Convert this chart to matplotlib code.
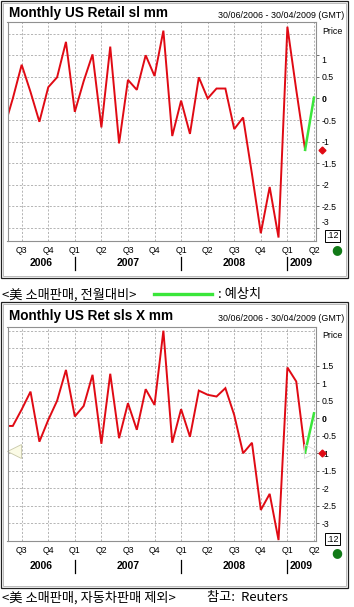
import matplotlib
matplotlib.use("Agg")
import matplotlib.pyplot as plt
import matplotlib.transforms as mtransforms
from matplotlib.patches import Rectangle

plt.rcParams["axes.unicode_minus"] = False

W, H = 354, 607

# month index 0 = first month of Q3 2006
months = list(range(-2, 33))
forecast_months = [32, 33]

retail = [-0.70, 0.00, 0.78, 0.15, -0.54, 0.26, 0.49, 1.31, -0.31, 0.40,
          1.02, -0.67, 1.20, -1.04, 0.43, 0.20, 1.00, 0.52, 1.57, -0.87,
          -0.05, -0.82, 0.49, 0.00, 0.23, 0.23, -0.71, -0.44, -1.75, -3.12,
          -2.05, -3.22, 1.66, 0.20, -1.19]
retail_forecast = [-1.19, 0.02]

retail_ex_auto = [-0.22, -0.22, 0.25, 0.76, -0.67, -0.05, 0.50, 1.38, 0.05, 0.35,
                  1.24, -0.73, 1.27, -0.57, 0.43, -0.33, 0.83, 0.38, 2.50, -0.70,
                  0.26, -0.53, 0.79, 0.67, 0.62, 0.86, 0.09, -1.00, -0.70, -2.62,
                  -2.16, -3.48, 1.45, 1.05, -0.98]
retail_ex_auto_forecast = [-0.98, 0.14]

quarter_pos = list(range(0, 34, 3))
quarter_labels = ["Q3", "Q4", "Q1", "Q2", "Q3", "Q4", "Q1", "Q2", "Q3", "Q4", "Q1", "Q2"]
year_labels = ["2006", "2007", "2008", "2009"]
year_centers = [2.2, 12, 24, 30.3]
year_breaks = [6, 18, 30]

top_ticks = [1, 0.5, 0, -0.5, -1, -1.5, -2, -2.5, -3]
top_extra_grid = [1.5]
bottom_ticks = [1.5, 1, 0.5, 0, -0.5, -1, -1.5, -2, -2.5, -3]
bottom_extra_grid = [2.5, 2.0]

RED = "#e00a14"
GREEN = "#3ae63a"
GRID = "#a8a8a8"


def fxy(x, y):
    return x / W, 1 - y / H


def rect(x0, y0, x1, y1):
    return [x0 / W, 1 - y1 / H, (x1 - x0) / W, (y1 - y0) / H]


def draw_box(fig, x0, y0, x1, y1):
    fig.patches.append(Rectangle(fxy(x0, y1), (x1 - x0) / W, (y1 - y0) / H,
                                 transform=fig.transFigure, fill=False,
                                 edgecolor="#202020", lw=0.9))
    fig.patches.append(Rectangle(fxy(x0 + 1.5, y1 - 1.5), (x1 - x0 - 3) / W,
                                 (y1 - y0 - 3) / H, transform=fig.transFigure,
                                 fill=False, edgecolor="#b0b0b0", lw=0.6))


def draw_panel(fig, dy, box, plot, ylim, values, forecast, ticks, extra_grid,
               title, shifted=None, tri=False):
    shifted = shifted or {}
    draw_box(fig, *box)
    ax = fig.add_axes(rect(*plot))
    ax.plot(months, values, color=RED, lw=1.4, solid_joinstyle="miter")
    ax.plot(forecast_months, forecast, color=GREEN, lw=1.8)
    # last-value marker beside the scale
    ax.plot([33.87], [values[-1]], marker="D", ms=3.5, color=RED, clip_on=False)
    ax.set_xlim(-1.6, 33.23)
    ax.set_ylim(*ylim)

    ax.set_xticks(quarter_pos, quarter_labels)
    ax.set_yticks(ticks, ["" if v in shifted else f"{v:g}" for v in ticks])
    ax.set_yticks(extra_grid, minor=True)
    ax.yaxis.tick_right()
    ax.tick_params(axis="x", length=0, pad=3.5, labelsize=6.3, colors="black")
    ax.tick_params(axis="y", which="major", length=2.5, width=0.6, pad=1.5,
                   labelsize=6.3, color="#555555")
    ax.tick_params(axis="y", which="minor", length=0)
    for lab in ax.get_yticklabels():
        lab.set_family("Liberation Sans")
        if lab.get_text() == "0":
            lab.set_fontweight("bold")
    for lab in ax.get_xticklabels():
        lab.set_family("Liberation Sans")
    ax.grid(True, which="both", color=GRID, ls=(0, (2.5, 2)), lw=0.6)
    for s in ax.spines.values():
        s.set_color("#909090")
        s.set_linewidth(0.8)

    # labels nudged off their grid line, as in the source chart
    yblend = mtransforms.blended_transform_factory(ax.transAxes, ax.transData)
    for v, shift in shifted.items():
        off = mtransforms.ScaledTranslation(4 / 72, -shift / 100, fig.dpi_scale_trans)
        ax.text(1.0, v, f"{v:g}", transform=yblend + off, ha="left", va="center",
                fontsize=6.3, family="Liberation Sans")

    if tri:
        ax.plot([0.02], [0.42], marker="<", ms=10, mfc="#fbfbe6", mec="#c8c8a8",
                mew=0.6, transform=ax.transAxes, clip_on=False)
        ax.plot([0.985], [0.42], marker=">", ms=10, mfc="none", mec="#dcdcdc",
                mew=0.6, transform=ax.transAxes, clip_on=False)

    blend = mtransforms.blended_transform_factory(ax.transData, fig.transFigure)
    for i, (lab, c) in enumerate(zip(year_labels, year_centers)):
        ha = "left" if i == len(year_labels) - 1 else "center"
        ax.text(c, 1 - (263 + dy) / H, lab, transform=blend, ha=ha, va="center",
                fontsize=7.5, fontweight="bold", family="Liberation Sans")
    for b in year_breaks:
        ax.plot([b, b], [1 - (257 + dy) / H, 1 - (270 + dy) / H], transform=blend,
                color="black", lw=0.9, clip_on=False)

    fig.text(*fxy(9, 13 + dy), title, ha="left", va="center", fontsize=9.8,
             fontweight="bold", family="Liberation Sans")
    fig.text(*fxy(344, 15.5 + dy), "30/06/2006 - 30/04/2009 (GMT)", ha="right",
             va="center", fontsize=6.4, family="Liberation Sans")
    fig.text(*fxy(322.5, 32 + dy), "Price", ha="left", va="center", fontsize=6.4,
             family="Liberation Sans")
    fig.text(*fxy(332.5, 236 + dy), ".12", ha="center", va="center",
             fontsize=6.4, family="Liberation Sans",
             bbox=dict(boxstyle="square,pad=0.15", fc="white", ec="black", lw=0.7))
    fig.text(*fxy(336.5, 250 + dy), "\u25cf", ha="center", va="center",
             fontsize=9, color="#117a17")
    return ax


fig = plt.figure(figsize=(W / 100, H / 100), dpi=100)

draw_panel(fig, 0, (1, 1, 347.5, 277.5), (7.5, 22, 316, 241), (-3.30, 1.77),
           retail, retail_forecast, top_ticks, top_extra_grid,
           "Monthly US Retail sl mm", shifted={1: 5, -3: -6})
draw_panel(fig, 303, (1, 302, 347.5, 587.5), (7.5, 326.5, 316, 541),
           (-3.506, 2.62), retail_ex_auto, retail_ex_auto_forecast, bottom_ticks,
           bottom_extra_grid, "Monthly US Ret sls X mm", tri=True)

kr = ["Noto Sans CJK KR", "DejaVu Sans"]
fig.text(*fxy(2, 294.5), "<美 소매판매, 전월대비>", ha="left", va="center",
         fontsize=9.5, family=kr)
fig.lines.append(plt.Line2D([154 / W, 212 / W], [1 - 294.3 / H, 1 - 294.3 / H],
                            transform=fig.transFigure, color=GREEN, lw=2.4))
fig.text(*fxy(218, 294.5), ": 예상치", ha="left", va="center", fontsize=9.5,
         family=kr)
fig.text(*fxy(2, 598), "<美 소매판매, 자동차판매 제외>", ha="left", va="center",
         fontsize=9.5, family=kr)
fig.text(*fxy(207, 598), "참고:  Reuters", ha="left", va="center", fontsize=9.5,
         family=kr)

fig.savefig("out.png", dpi=100)
